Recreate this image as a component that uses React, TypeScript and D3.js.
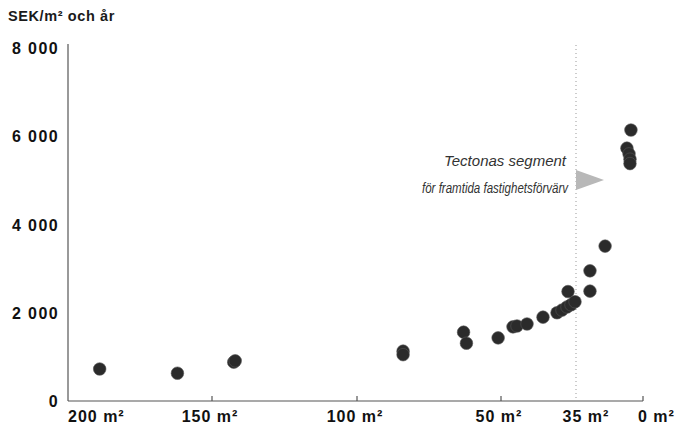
import React from 'react';
import * as d3 from 'd3';

// x breakpoints of the (piecewise) area axis, m²
const areaBreaks = [200, 150, 100, 50, 35, 0];
const areaTickMarks = [150, 100, 50, 0];
const areaLabels = ['200 m²', '150 m²', '100 m²', '50 m²', '35 m²', '0 m²'];
const rentTicks = [0, 2000, 4000, 6000, 8000];

// points: area (m²) and rent (SEK/m² och år)
const area = [
  189, 162, 142.5, 142, 84, 84, 63, 62, 51, 47.6, 46.8, 44.8, 41.6, 38.8, 37.8,
  36.8, 36, 35.2, 36.6, 27.7, 27.7, 19.8, 6.3, 8.4, 7.3, 6.8, 6.8,
];
const rent = [
  725, 630, 880, 910, 1130, 1050, 1560, 1310, 1430, 1680, 1700, 1745, 1900, 2000,
  2060, 2130, 2180, 2250, 2480, 2490, 2950, 3510, 6140, 5730, 5600, 5480, 5380,
];

const W = 676;
const H = 428;
const left = 68;
const bottom = 401;
const top = 48;

const fmt = (v: number) => d3.format(',')(v).replace(',', ' ');

const App: React.FC = () => {
  // the original axis is not linear: the small-area end is stretched
  const x = d3
    .scaleLinear()
    .domain(areaBreaks)
    .range([left, 212, 357, 501, 576, 643]);
  const y = d3.scaleLinear().domain([0, 8000]).range([bottom, top]);

  const font = 'Liberation Sans, Arial, Helvetica, sans-serif';
  const axisColor = '#555';

  return (
    <div style={{ position: 'absolute', left: 0, top: 0, background: '#fff' }}>
      <svg width={W} height={H} style={{ display: 'block' }} fontFamily={font}>
        <rect width={W} height={H} fill="#fff" />

        <text x={8} y={21} fontSize={14.5} fill="#1a1a1a" fontWeight="bold" letterSpacing={0.6}>
          SEK/m² och år
        </text>

        {/* dotted segment boundary at 35 m² */}
        <line
          x1={x(35)}
          x2={x(35)}
          y1={y(8000) - 3}
          y2={bottom}
          stroke="#999"
          strokeWidth={1}
          strokeDasharray="1 3"
        />

        {/* axes */}
        <line x1={left} x2={left} y1={y(8000) - 4} y2={bottom} stroke={axisColor} strokeWidth={1.2} />
        <line x1={left} x2={x(0)} y1={bottom} y2={bottom} stroke={axisColor} strokeWidth={1.2} />
        {areaTickMarks.map((t) => (
          <line key={t} x1={x(t)} x2={x(t)} y1={bottom} y2={bottom - 5} stroke={axisColor} strokeWidth={1.2} />
        ))}

        {rentTicks.map((t) => (
          <text
            key={t}
            x={59}
            y={y(t) + 6}
            textAnchor="end"
            fontSize={16}
            fontWeight="bold"
            letterSpacing={1.4}
            fill="#111"
          >
            {fmt(t)}
          </text>
        ))}

        {areaBreaks.map((a, i) => {
          const isFirst = i === 0;
          const isLast = i === areaBreaks.length - 1;
          return (
            <text
              key={a}
              x={isFirst ? left : isLast ? x(a) - 5 : x(a) + (a === 35 ? 10 : -2)}
              y={422}
              textAnchor={isFirst || isLast ? 'start' : 'middle'}
              fontSize={16}
              fontWeight="bold"
              letterSpacing={1}
              fill="#111"
            >
              {areaLabels[i]}
            </text>
          );
        })}

        {/* annotation */}
        <text
          x={444}
          y={166}
          fontSize={15.5}
          fontStyle="italic"
          fill="#333"
          textLength={122}
          lengthAdjust="spacingAndGlyphs"
        >
          Tectonas segment
        </text>
        <text
          x={422}
          y={193}
          fontSize={15.5}
          fontStyle="italic"
          fill="#333"
          textLength={146}
          lengthAdjust="spacingAndGlyphs"
        >
          för framtida fastighetsförvärv
        </text>
        <path d="M576,170 L604,180 L576,190 Z" fill="#b8b8b8" />

        {area.map((a, i) => (
          <circle key={i} cx={x(a)} cy={y(rent[i])} r={6.3} fill="#2b2b2b" stroke="#555" strokeWidth={0.6} />
        ))}
      </svg>
    </div>
  );
};

export default App;
